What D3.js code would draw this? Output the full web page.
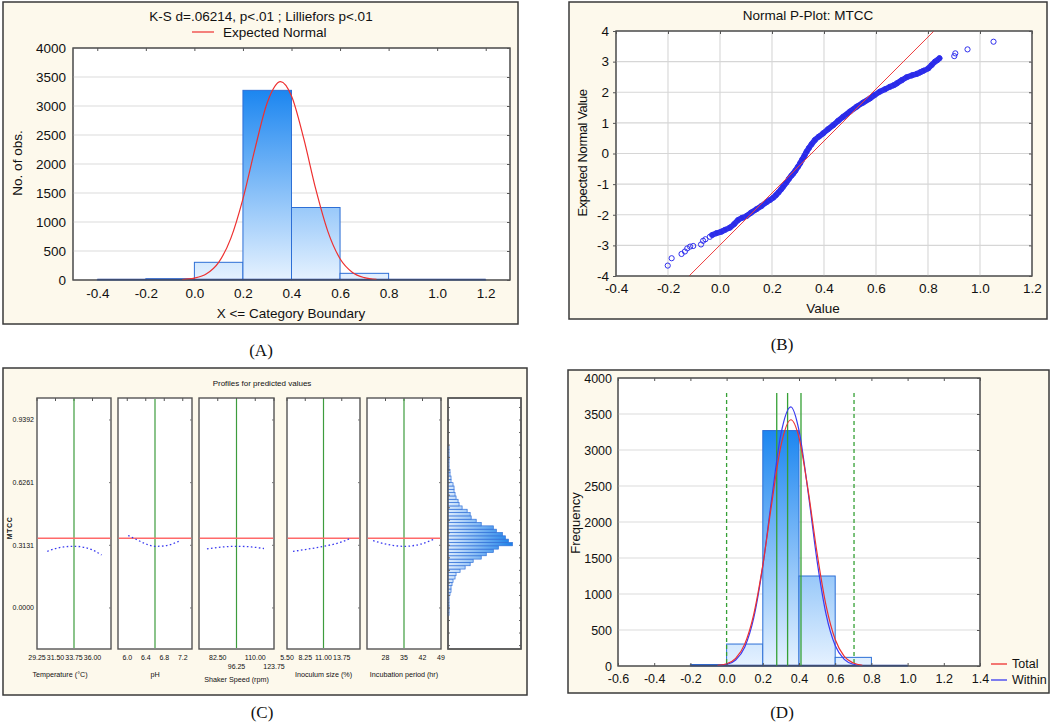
<!DOCTYPE html>
<html><head><meta charset="utf-8">
<script src="https://cdn.jsdelivr.net/npm/d3@7"></script>
<style>
body{margin:0;background:#fff}
svg{display:block}
text{font-family:"Liberation Sans",Arial,sans-serif;fill:#111}
</style>
</head><body>
<svg id="c" width="1052" height="723"></svg>
<script>
// ---------------- DATA ----------------
// Panels A & D: histogram of MTCC
const binEdgesA = [-0.4,-0.2,0.0,0.2,0.4,0.6,0.8,1.0,1.2];
const binCountsA = [3,22,305,3270,1250,115,4,3];
const binEdgesD = [-0.2,0.0,0.2,0.4,0.6,0.8,1.0];
const binCountsD = [20,305,3270,1250,120,5];
const countTicks = [0,500,1000,1500,2000,2500,3000,3500,4000];
const xTicksA = [-0.4,-0.2,0.0,0.2,0.4,0.6,0.8,1.0,1.2];
const xTicksD = [-0.6,-0.4,-0.2,0.0,0.2,0.4,0.6,0.8,1.0,1.2,1.4];
// expected normal curves
const curveX      = [-0.05,0.0,0.05,0.1,0.15,0.2,0.25,0.3,0.355,0.4,0.45,0.5,0.55,0.6,0.65,0.7,0.75];
const curveTotal  = [8,32,107,304,718,1400,2270,3057,3420,3173,2446,1566,834,367,135,41,10];
const curveWithin = [5,21,83,261,667,1386,2341,3219,3600,3273,2423,1457,713,284,92,24,5];
// Panel D: limit lines
const limitsSolid = [0.277,0.337,0.411];
const limitsDashed = [0.0,0.704];
const limitTop = 3790;

// Panel B: normal probability plot
const xTicksB = [-0.4,-0.2,0.0,0.2,0.4,0.6,0.8,1.0,1.2];
const yTicksB = [-4,-3,-2,-1,0,1,2,3,4];
const ppValue = [-0.201,-0.186,-0.148,-0.135,-0.126,-0.115,-0.103,-0.073,-0.065,-0.056,-0.039,
  -0.03,-0.013,0.006,0.02,0.038,0.055,0.07,0.085,0.102,0.12,0.14,0.16,0.179,0.192,0.205,0.215,0.225,
  0.235,0.243,0.255,0.265,0.275,0.282,0.29,0.3,0.308,0.316,0.325,0.333,0.342,0.352,0.365,0.38,0.397,
  0.415,0.436,0.455,0.474,0.5,0.526,0.55,0.577,0.595,0.615,0.635,0.654,0.668,0.68,0.7,0.718,0.738,
  0.757,0.77,0.782,0.801,0.814,0.827,0.836,0.844,0.901,0.905,0.952,1.052];
const ppExpected = [-3.66,-3.42,-3.28,-3.2,-3.1,-3.04,-3.02,-2.97,-2.85,-2.8,-2.72,
  -2.66,-2.6,-2.55,-2.49,-2.42,-2.3,-2.17,-2.1,-2.04,-1.93,-1.82,-1.71,-1.59,-1.52,-1.44,-1.36,-1.27,
  -1.17,-1.08,-0.95,-0.83,-0.72,-0.65,-0.56,-0.43,-0.32,-0.2,-0.07,0.06,0.18,0.3,0.44,0.55,0.66,
  0.79,0.93,1.07,1.2,1.37,1.53,1.66,1.8,1.91,2.02,2.1,2.18,2.23,2.29,2.4,2.49,2.55,
  2.6,2.65,2.7,2.78,2.89,3.0,3.05,3.11,3.18,3.27,3.4,3.65];
const denseFrom = 11, denseTo = 69;   // index range of the dense band
const refLineValue = [-0.119,0.823];
const refLineExpected = [-4,4];

// Panel C: profiles for predicted values
const factorNames = ["Temperature (\u00B0C)","pH","Shaker Speed (rpm)","Inoculum size (%)","Incubation period (hr)"];
const factorDomains = [[29.25,38.25],[5.8,7.4],[68.75,123.75],[5.5,16.5],[21,49]];
const factorTicks = [[29.25,31.5,33.75,36],[6.0,6.4,6.8,7.2],[82.5,96.25,110,123.75],[5.5,8.25,11,13.75],[28,35,42,49]];
const factorTickLabels = [["29.25","31.50","33.75","36.00"],["6.0","6.4","6.8","7.2"],["82.50","96.25","110.00","123.75"],["5.50","8.25","11.00","13.75"],["28","35","42","49"]];
const factorCentres = [33.75,6.6,96.25,11,35];
const predictedMean = 0.348;
const profileX = [[30.5,31.5,32.5,33.75,35,36,37.1],[6.02,6.2,6.4,6.6,6.8,7.0,7.14],[74.6,85,96.25,107,116.4],[6.4,8.25,11,13.75,15],[23.3,29,35,41,46]];
const profileY = [[0.283,0.297,0.305,0.308,0.303,0.29,0.265],[0.362,0.342,0.320,0.308,0.310,0.322,0.336],[0.295,0.304,0.308,0.305,0.297],[0.283,0.292,0.308,0.33,0.347],[0.336,0.317,0.308,0.318,0.342]];
const mtccTicks = [0.0,0.3131,0.6261,0.9392];
const mtccTickLabels = ["0.0000","0.3131","0.6261","0.9392"];
const predBinStart = -0.038, predBinWidth = 0.0166;
const predCounts = [4,4,4,4,4,4,8,12,12,16,20,28,32,48,68,88,100,132,152,180,200,256,240,228,216,192,180,132,112,92,88,76,56,44,40,32,28,24,24,20,12,12,8,8,4,4,4,4,4,4,4];

// ---------------- DRAW ----------------
const svg = d3.select("#c");
const defs = svg.append("defs");
const CREAM = "#fdf9ec";
const fmt1 = d => d.toFixed(1);
const fmtInt = d => String(d);

function frame(x0,y0,x1,y1){
  svg.append("rect").attr("x",x0).attr("y",y0).attr("width",x1-x0).attr("height",y1-y0)
    .attr("fill",CREAM).attr("stroke","#3a3a3a").attr("stroke-width",1.5);
}
function plotRect(g,x0,y0,x1,y1,sw){
  g.append("rect").attr("x",x0).attr("y",y0).attr("width",x1-x0).attr("height",y1-y0)
    .attr("fill","#fff").attr("stroke","#555").attr("stroke-width",sw||1);
}
function vGradient(id,y0,y1){
  const g = defs.append("linearGradient").attr("id",id).attr("gradientUnits","userSpaceOnUse")
    .attr("x1",0).attr("x2",0).attr("y1",y0).attr("y2",y1);
  g.append("stop").attr("offset",0).attr("stop-color","#1a85f0");
  g.append("stop").attr("offset",1).attr("stop-color","#e6f2ff");
}
function label(t,x,y,opt){
  opt = opt||{};
  const e = svg.append("text").attr("x",x).attr("y",y).text(t)
    .attr("font-size",opt.size||13).attr("text-anchor",opt.anchor||"middle");
  if(opt.rot) e.attr("transform",`rotate(-90,${x},${y})`);
  if(opt.family) e.style("font-family",opt.family);
  return e;
}
function cleanAxis(g){ g.select(".domain").remove(); g.selectAll("text").style("font-family","Liberation Sans, Arial, sans-serif").attr("fill","#111"); }

// ===== Panel A =====
frame(3,2,518,324);
const PA = {l:73,t:48,r:510,b:280};
const xA = d3.scaleLinear([-0.5,1.3],[PA.l,PA.r]);
const yA = d3.scaleLinear([0,4000],[PA.b,PA.t]);
const gA = svg.append("g");
plotRect(gA,PA.l,PA.t,PA.r,PA.b);
gA.selectAll(".gr").data(countTicks.slice(1,-1)).join("line")
  .attr("x1",PA.l).attr("x2",PA.r).attr("y1",d=>yA(d)).attr("y2",d=>yA(d))
  .attr("stroke","#dcdcdc").attr("stroke-width",1.2);
vGradient("gradA",yA(3300),yA(0));
gA.selectAll(".bar").data(binCountsA).join("rect")
  .attr("x",(d,i)=>xA(binEdgesA[i])).attr("width",(d,i)=>xA(binEdgesA[i+1])-xA(binEdgesA[i]))
  .attr("y",d=>yA(d)).attr("height",d=>yA(0)-yA(d))
  .attr("fill","url(#gradA)").attr("stroke","#2d6fd6").attr("stroke-width",1);
gA.append("line").attr("x1",xA(binEdgesA[0])).attr("x2",xA(binEdgesA[binEdgesA.length-1]))
  .attr("y1",yA(0)-0.5).attr("y2",yA(0)-0.5).attr("stroke","#1d3f9c").attr("stroke-width",1.6);
const lineA = d3.line().x((d,i)=>xA(curveX[i])).y(d=>yA(d)).curve(d3.curveMonotoneX);
gA.append("path").attr("d",lineA(curveTotal)).attr("fill","none").attr("stroke","#ee3030").attr("stroke-width",1.2);
gA.append("rect").attr("x",PA.l).attr("y",PA.t).attr("width",PA.r-PA.l).attr("height",PA.b-PA.t)
  .attr("fill","none").attr("stroke","#555").attr("stroke-width",1.2);
let ax;
ax = gA.append("g").attr("transform",`translate(${PA.l},0)`).call(d3.axisLeft(yA).tickValues(countTicks).tickFormat(fmtInt).tickSize(0).tickPadding(7));
cleanAxis(ax); ax.selectAll("text").attr("font-size",13.5);
ax = gA.append("g").attr("transform",`translate(0,${PA.b})`).call(d3.axisBottom(xA).tickValues(xTicksA).tickFormat(fmt1).tickSize(0).tickPadding(8));
cleanAxis(ax); ax.selectAll("text").attr("font-size",13.5);
ax = gA.append("g").attr("transform",`translate(0,${PA.t})`).call(d3.axisTop(xA).tickValues(xTicksA).tickSize(-3).tickFormat(""));
cleanAxis(ax); ax.selectAll("line").attr("stroke","#555");
ax = gA.append("g").attr("transform",`translate(${PA.r},0)`).call(d3.axisRight(yA).tickValues(countTicks).tickSize(-3).tickFormat(""));
cleanAxis(ax); ax.selectAll("line").attr("stroke","#555");
label("K-S d=.06214, p<.01 ; Lilliefors p<.01",261,21,{size:13.5});
svg.append("line").attr("x1",192).attr("x2",214).attr("y1",32).attr("y2",32).attr("stroke","#ee3030").attr("stroke-width",1.2);
label("Expected Normal",223,37,{size:13.5,anchor:"start"});
label("X <= Category Boundary",291,318,{size:13.5});
label("No. of obs.",22,163,{size:13.5,rot:true});
label("(A)",261,356,{size:17,family:"Liberation Serif, serif"});

// ===== Panel B =====
frame(569,2,1047,319);
const PB = {l:616,t:31,r:1032,b:276};
const xB = d3.scaleLinear([-0.4,1.2],[PB.l,PB.r]);
const yB = d3.scaleLinear([-4,4],[PB.b,PB.t]);
const gB = svg.append("g");
plotRect(gB,PB.l,PB.t,PB.r,PB.b);
gB.selectAll(".gx").data(xTicksB.slice(1,-1)).join("line")
  .attr("x1",d=>xB(d)).attr("x2",d=>xB(d)).attr("y1",PB.t).attr("y2",PB.b).attr("stroke","#d6d6d6").attr("stroke-width",1.1);
gB.selectAll(".gy").data(yTicksB.slice(1,-1)).join("line")
  .attr("x1",PB.l).attr("x2",PB.r).attr("y1",d=>yB(d)).attr("y2",d=>yB(d)).attr("stroke","#d6d6d6").attr("stroke-width",1.1);
const pts = ppValue.map((v,i)=>({v,e:ppExpected[i]}));
gB.append("path").attr("d",d3.line().x(d=>xB(d.v)).y(d=>yB(d.e)).curve(d3.curveMonotoneX)(pts.slice(denseFrom,denseTo+1)))
  .attr("fill","none").attr("stroke","#2a2ae6").attr("stroke-width",5.6).attr("stroke-linecap","round");
gB.selectAll(".pt").data(pts).join("circle")
  .attr("cx",d=>xB(d.v)).attr("cy",d=>yB(d.e)).attr("r",2.6)
  .attr("fill","none").attr("stroke","#3030ee").attr("stroke-width",1);
gB.append("line").attr("x1",xB(refLineValue[0])).attr("x2",xB(refLineValue[1]))
  .attr("y1",yB(refLineExpected[0])).attr("y2",yB(refLineExpected[1]))
  .attr("stroke","#ee4040").attr("stroke-width",1);
gB.append("rect").attr("x",PB.l).attr("y",PB.t).attr("width",PB.r-PB.l).attr("height",PB.b-PB.t)
  .attr("fill","none").attr("stroke","#555").attr("stroke-width",1.2);
ax = gB.append("g").attr("transform",`translate(${PB.l},0)`).call(d3.axisLeft(yB).tickValues(yTicksB).tickFormat(fmtInt).tickSize(3).tickPadding(4));
cleanAxis(ax); ax.selectAll("text").attr("font-size",13.5); ax.selectAll("line").attr("stroke","#555");
ax = gB.append("g").attr("transform",`translate(0,${PB.b})`).call(d3.axisBottom(xB).tickValues(xTicksB).tickFormat(fmt1).tickSize(0).tickPadding(7));
cleanAxis(ax); ax.selectAll("text").attr("font-size",13.5);
ax = gB.append("g").attr("transform",`translate(0,${PB.t})`).call(d3.axisTop(xB).tickValues(xTicksB).tickSize(-3).tickFormat(""));
cleanAxis(ax); ax.selectAll("line").attr("stroke","#555");
ax = gB.append("g").attr("transform",`translate(${PB.r},0)`).call(d3.axisRight(yB).tickValues(yTicksB).tickSize(-3).tickFormat(""));
cleanAxis(ax); ax.selectAll("line").attr("stroke","#555");
label("Normal P-Plot: MTCC",808,20,{size:13.5});
label("Value",823,313,{size:13.5});
label("Expected Normal Value",587,153,{size:13,rot:true}).attr("letter-spacing",-0.4);
label("(B)",782,350,{size:17,family:"Liberation Serif, serif"});

// ===== Panel C =====
frame(3,368,527,695);
const yC = d3.scaleLinear([-0.205,1.049],[649,398]);
const subL = [37,118,199,287,367,448], subR = [111,192,274,360,441,521];
const gC = svg.append("g");
label("Profiles for predicted values",262,386,{size:8});
mtccTicks.forEach((t,i)=>{
  label(mtccTickLabels[i],34,yC(t)+2.5,{size:7,anchor:"end"}).attr("fill","#333");
});
label("MTCC",12,528,{size:7,rot:true}).attr("font-weight","bold").attr("letter-spacing",0.6);
factorNames.forEach((name,k)=>{
  const x = d3.scaleLinear(factorDomains[k],[subL[k],subR[k]]);
  plotRect(gC,subL[k],398,subR[k],649,1.4);
  factorTicks[k].forEach(t=>{
    gC.append("line").attr("x1",x(t)).attr("x2",x(t)).attr("y1",398).attr("y2",401).attr("stroke","#555");
  });
  mtccTicks.forEach(t=>{
    gC.append("line").attr("x1",subR[k]-2).attr("x2",subR[k]).attr("y1",yC(t)).attr("y2",yC(t)).attr("stroke","#777");
  });
  gC.append("line").attr("x1",x(factorCentres[k])).attr("x2",x(factorCentres[k]))
    .attr("y1",399).attr("y2",648).attr("stroke","#3d9c3d").attr("stroke-width",1.2);
  gC.append("line").attr("x1",subL[k]+0.7).attr("x2",subR[k]-0.7).attr("y1",yC(predictedMean)).attr("y2",yC(predictedMean))
    .attr("stroke","#ff6a6a").attr("stroke-width",1.5);
  const pl = d3.line().x((d,i)=>x(profileX[k][i])).y(d=>yC(d)).curve(d3.curveMonotoneX);
  gC.append("path").attr("d",pl(profileY[k])).attr("fill","none").attr("stroke","#3a3af0")
    .attr("stroke-width",1.3).attr("stroke-dasharray","1.6,2.4");
  factorTicks[k].forEach((t,i)=>{
    const row2 = (k===2 && i%2===1);
    label(factorTickLabels[k][i],x(t),row2?669:660,{size:7}).attr("fill","#333");
  });
  const cx = k===0 ? subL[k]+23 : (subL[k]+subR[k])/2;
  label(name,cx,k===2?682:677,{size:7.2}).attr("fill","#333");
});
const hx = d3.scaleLinear([0,290],[subL[5],subR[5]]);
plotRect(gC,subL[5],398,subR[5],649,1.4);
const gradH = defs.append("linearGradient").attr("id","gradH").attr("gradientUnits","userSpaceOnUse")
  .attr("x1",hx(0)).attr("x2",hx(256)).attr("y1",0).attr("y2",0);
gradH.append("stop").attr("offset",0).attr("stop-color","#dcebfd");
gradH.append("stop").attr("offset",1).attr("stop-color","#1a7fe8");
gC.selectAll(".hb").data(predCounts).join("rect")
  .attr("x",hx(0)).attr("width",d=>hx(d)-hx(0))
  .attr("y",(d,i)=>yC(predBinStart+(i+1)*predBinWidth)).attr("height",(d,i)=>yC(predBinStart+i*predBinWidth)-yC(predBinStart+(i+1)*predBinWidth))
  .attr("fill","url(#gradH)").attr("stroke","#2f6fd8").attr("stroke-width",0.7);
d3.range(-0.1879,1.05,0.06261).forEach(t=>{
  if(yC(t)<400||yC(t)>647) return;
  gC.append("line").attr("x1",subL[5]).attr("x2",subL[5]+2).attr("y1",yC(t)).attr("y2",yC(t)).attr("stroke","#666");
  gC.append("line").attr("x1",subR[5]-2).attr("x2",subR[5]).attr("y1",yC(t)).attr("y2",yC(t)).attr("stroke","#666");
});
gC.append("rect").attr("x",subL[5]).attr("y",398).attr("width",subR[5]-subL[5]).attr("height",251)
  .attr("fill","none").attr("stroke","#555").attr("stroke-width",1.4);
label("(C)",262,718,{size:17,family:"Liberation Serif, serif"});

// ===== Panel D =====
frame(568,370,1049,693);
const PD = {l:618,t:378,r:980,b:666};
const xD = d3.scaleLinear([-0.6,1.4],[PD.l,PD.r]);
const yD = d3.scaleLinear([0,4000],[PD.b,PD.t]);
const gD = svg.append("g");
plotRect(gD,PD.l,PD.t,PD.r,PD.b);
gD.selectAll(".gr").data(countTicks.slice(1,-1)).join("line")
  .attr("x1",PD.l).attr("x2",PD.r).attr("y1",d=>yD(d)).attr("y2",d=>yD(d))
  .attr("stroke","#dcdcdc").attr("stroke-width",1.2);
vGradient("gradD",yD(3300),yD(0));
gD.selectAll(".bar").data(binCountsD).join("rect")
  .attr("x",(d,i)=>xD(binEdgesD[i])).attr("width",(d,i)=>xD(binEdgesD[i+1])-xD(binEdgesD[i]))
  .attr("y",d=>yD(d)).attr("height",d=>yD(0)-yD(d))
  .attr("fill","url(#gradD)").attr("stroke","#2d6fd6").attr("stroke-width",1);
gD.append("line").attr("x1",xD(binEdgesD[0])).attr("x2",xD(binEdgesD[binEdgesD.length-1]))
  .attr("y1",yD(0)-0.5).attr("y2",yD(0)-0.5).attr("stroke","#1d3f9c").attr("stroke-width",1.6);
gD.selectAll(".ls").data(limitsSolid).join("line")
  .attr("x1",d=>xD(d)).attr("x2",d=>xD(d)).attr("y1",yD(limitTop)).attr("y2",yD(0))
  .attr("stroke","#35a035").attr("stroke-width",1.3);
gD.selectAll(".ld").data(limitsDashed).join("line")
  .attr("x1",d=>xD(d)).attr("x2",d=>xD(d)).attr("y1",yD(limitTop)).attr("y2",yD(0))
  .attr("stroke","#35a035").attr("stroke-width",1.3).attr("stroke-dasharray","4,3");
const lineD = d3.line().x((d,i)=>xD(curveX[i])).y(d=>yD(d)).curve(d3.curveMonotoneX);
gD.append("path").attr("d",lineD(curveWithin)).attr("fill","none").attr("stroke","#3a3af0").attr("stroke-width",1.2);
gD.append("path").attr("d",lineD(curveTotal)).attr("fill","none").attr("stroke","#ee3030").attr("stroke-width",1.2);
gD.append("rect").attr("x",PD.l).attr("y",PD.t).attr("width",PD.r-PD.l).attr("height",PD.b-PD.t)
  .attr("fill","none").attr("stroke","#555").attr("stroke-width",1.2);
ax = gD.append("g").attr("transform",`translate(${PD.l},0)`).call(d3.axisLeft(yD).tickValues(countTicks).tickFormat(fmtInt).tickSize(0).tickPadding(6));
cleanAxis(ax); ax.selectAll("text").attr("font-size",12.5);
ax = gD.append("g").attr("transform",`translate(0,${PD.b})`).call(d3.axisBottom(xD).tickValues(xTicksD).tickFormat(fmt1).tickSize(0).tickPadding(8));
cleanAxis(ax); ax.selectAll("text").attr("font-size",12.5);
ax = gD.append("g").attr("transform",`translate(0,${PD.t})`).call(d3.axisTop(xD).tickValues(xTicksD).tickSize(-3).tickFormat(""));
cleanAxis(ax); ax.selectAll("line").attr("stroke","#555");
ax = gD.append("g").attr("transform",`translate(0,${PD.b})`).call(d3.axisTop(xD).tickValues(xTicksD).tickSize(3).tickFormat(""));
cleanAxis(ax); ax.selectAll("line").attr("stroke","#555");
ax = gD.append("g").attr("transform",`translate(${PD.r},0)`).call(d3.axisRight(yD).tickValues(countTicks).tickSize(-3).tickFormat(""));
cleanAxis(ax); ax.selectAll("line").attr("stroke","#555");
label("Frequency",580,523,{size:13,rot:true});
svg.append("line").attr("x1",991).attr("x2",1007).attr("y1",664).attr("y2",664).attr("stroke","#ee3030").attr("stroke-width",1.3);
svg.append("line").attr("x1",991).attr("x2",1007).attr("y1",680).attr("y2",680).attr("stroke","#3a3af0").attr("stroke-width",1.3);
label("Total",1012,668,{size:12.5,anchor:"start"});
label("Within",1012,684,{size:12.5,anchor:"start"});
label("(D)",782,718,{size:17,family:"Liberation Serif, serif"});
</script>
</body></html>
